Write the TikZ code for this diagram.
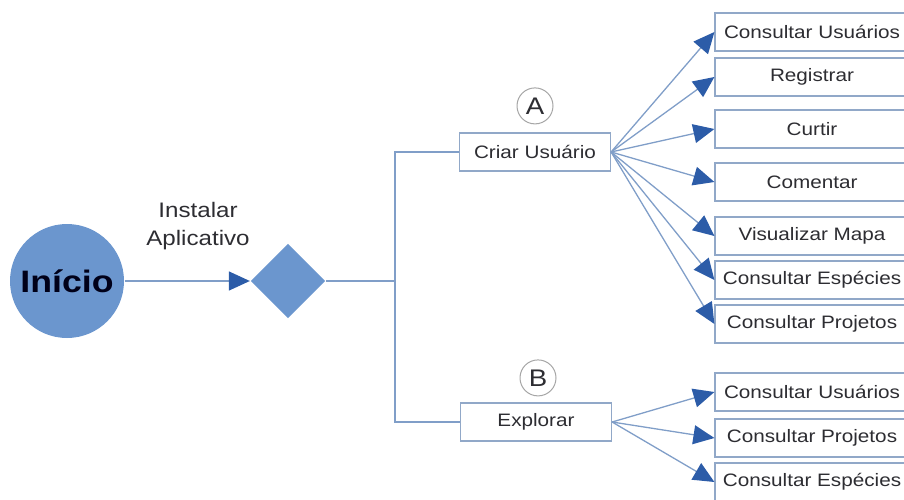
\documentclass[tikz,border=0pt]{standalone}
\usepackage{fontspec}
\setmainfont[FakeStretch=1.15]{Liberation Sans}
\usetikzlibrary{positioning,arrows.meta,shapes.geometric}
\definecolor{nodeblue}{RGB}{107,150,206}
\definecolor{lineblue}{RGB}{128,158,200}
\definecolor{tipblue}{RGB}{44,92,168}
\definecolor{boxline}{RGB}{145,168,200}
\definecolor{inktext}{RGB}{45,45,50}
\tikzset{
  flow/.style={x=1pt,y=-1pt,line width=1.3pt},
  conn/.style={draw=lineblue,line width=1.3pt},
  arr/.style={conn,-{Triangle[length=21pt,width=19pt,color=tipblue]}},
  task/.style={rectangle,draw=boxline,line width=1.2pt,fill=white,
    minimum width=194pt,minimum height=38pt,inner sep=0pt,text=inktext,
    font=\fontsize{18}{20}\selectfont},
  stage/.style={task,minimum width=151pt},
  tag/.style={circle,draw=gray!70,line width=1pt,fill=white,text=inktext,
    minimum size=36pt,inner sep=0pt,font=\fontsize{24}{26}\selectfont},
}

\begin{document}
\begin{tikzpicture}[flow]
  \useasboundingbox (0,0) rectangle (904,500);
  \clip (0,0) rectangle (904,500);
  % start and decision
  \node[circle,fill=nodeblue,minimum size=114pt,inner sep=0pt,text=black!90!blue,
    font=\fontsize{31}{33}\selectfont\bfseries] (ini) at (67,281) {Início};
  \node[diamond,fill=nodeblue,minimum width=75pt,minimum height=75pt,
    inner sep=0pt] (dec) at (288,281) {};
  \node[align=center,text=inktext,font=\fontsize{21}{28}\selectfont] (inst)
    at (198,226) {Instalar\\Aplicativo};
  \coordinate (jn) at (395,281);

  % paths A and B
  \node[stage] (criar) at (535,152) {Criar Usuário};
  \node[stage] (expl) at (536,422) {Explorar};
  \node[tag,above=8pt of criar] (tA) {A};
  \node[tag,above=6pt of expl,xshift=2pt] (tB) {B};

  % actions of A
  \node[task] (a1) at (812,32) {Consultar Usuários};
  \node[task] (a2) at (812,77) {Registrar};
  \node[task] (a3) at (812,129) {Curtir};
  \node[task] (a4) at (812,182) {Comentar};
  \node[task] (a5) at (812,236) {Visualizar Mapa};
  \node[task] (a6) at (812,280) {Consultar Espécies};
  \node[task] (a7) at (812,324) {Consultar Projetos};
  % actions of B
  \node[task] (b1) at (812,392) {Consultar Usuários};
  \node[task] (b2) at (812,438) {Consultar Projetos};
  \node[task] (b3) at (812,482) {Consultar Espécies};

  \draw[arr] (ini) -- (dec);
  \draw[conn] (dec.east) -- (jn);
  \draw[conn] (criar.west) -| (jn);
  \draw[conn] (expl.west) -| (jn);
  \foreach \t in {a1,a2,a3,a4,a5,a6,a7}
    \draw[arr] (criar.east) -- (\t.west);
  \foreach \t in {b1,b2,b3}
    \draw[arr] (expl.east) -- (\t.west);
\end{tikzpicture}
\end{document}
